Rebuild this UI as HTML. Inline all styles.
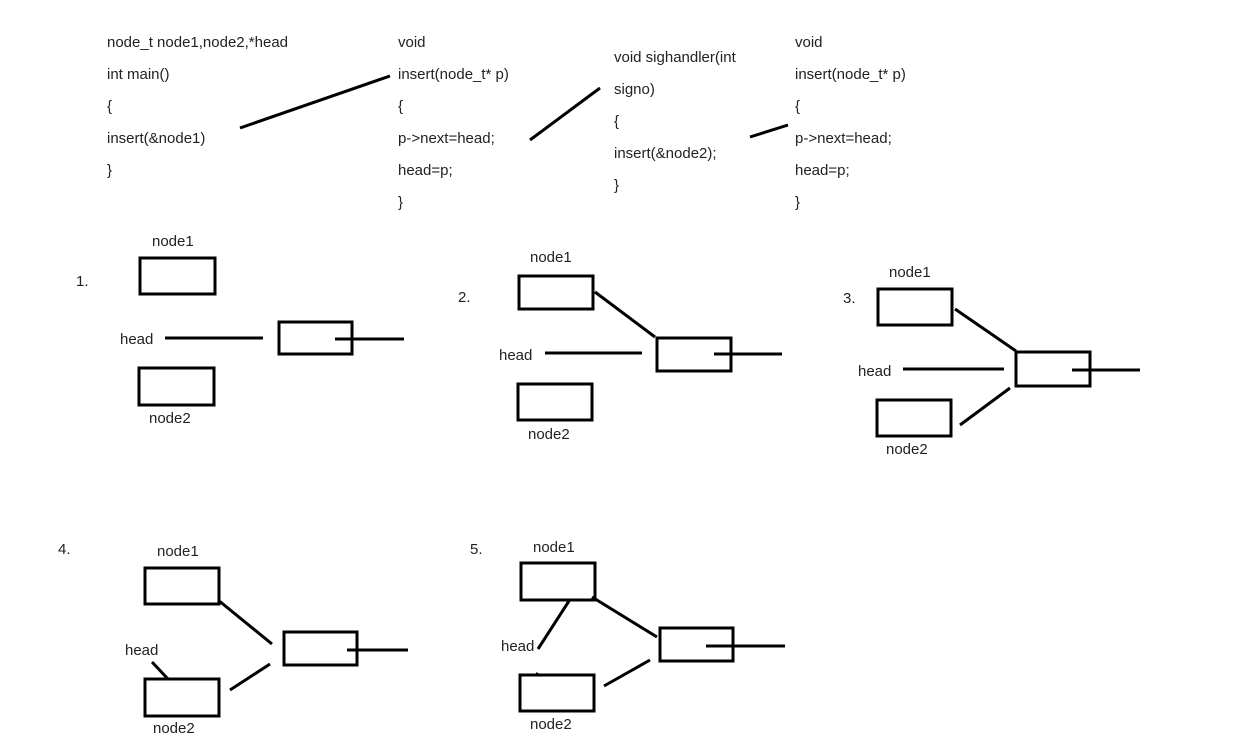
<!DOCTYPE html>
<html><head><meta charset="utf-8"><style>
html,body{margin:0;padding:0;background:#fff;}
svg{display:block;}
text{font-family:"Liberation Sans","DejaVu Sans",sans-serif;font-size:15px;fill:#222;}
</style></head><body>
<svg width="1243" height="745" viewBox="0 0 1243 745" xmlns="http://www.w3.org/2000/svg">
<g>
<text x="107" y="47">node_t node1,node2,*head</text>
<text x="107" y="79">int main()</text>
<text x="107" y="111">{</text>
<text x="107" y="143">insert(&amp;node1)</text>
<text x="107" y="175">}</text>

<text x="398" y="47">void</text>
<text x="398" y="79">insert(node_t* p)</text>
<text x="398" y="111">{</text>
<text x="398" y="143">p-&gt;next=head;</text>
<text x="398" y="175">head=p;</text>
<text x="398" y="207">}</text>

<text x="614" y="62">void sighandler(int</text>
<text x="614" y="94">signo)</text>
<text x="614" y="126">{</text>
<text x="614" y="158">insert(&amp;node2);</text>
<text x="614" y="190">}</text>

<text x="795" y="47">void</text>
<text x="795" y="79">insert(node_t* p)</text>
<text x="795" y="111">{</text>
<text x="795" y="143">p-&gt;next=head;</text>
<text x="795" y="175">head=p;</text>
<text x="795" y="207">}</text>
</g>
<g stroke="#000" stroke-width="3" fill="none">
<line x1="240" y1="128" x2="390" y2="76"/>
<line x1="530" y1="140" x2="600" y2="88"/>
<line x1="750" y1="137" x2="788" y2="125"/>

<!-- 1 -->
<rect x="140" y="258" width="75" height="36"/>
<line x1="165" y1="338" x2="263" y2="338"/>
<rect x="279" y="322" width="73" height="32"/>
<line x1="335" y1="339" x2="404" y2="339"/>
<rect x="139" y="368" width="75" height="37"/>

<!-- 2 -->
<rect x="519" y="276" width="74" height="33"/>
<line x1="595" y1="292" x2="655" y2="337"/>
<line x1="545" y1="353" x2="642" y2="353"/>
<rect x="657" y="338" width="74" height="33"/>
<line x1="714" y1="354" x2="782" y2="354"/>
<rect x="518" y="384" width="74" height="36"/>

<!-- 3 -->
<rect x="878" y="289" width="74" height="36"/>
<line x1="955" y1="309" x2="1016" y2="351"/>
<line x1="903" y1="369" x2="1004" y2="369"/>
<rect x="1016" y="352" width="74" height="34"/>
<line x1="1072" y1="370" x2="1140" y2="370"/>
<rect x="877" y="400" width="74" height="36"/>
<line x1="960" y1="425" x2="1010" y2="388"/>

<!-- 4 -->
<rect x="145" y="568" width="74" height="36"/>
<line x1="218" y1="600" x2="272" y2="644"/>
<line x1="152" y1="662" x2="168" y2="679"/>
<rect x="284" y="632" width="73" height="33"/>
<line x1="347" y1="650" x2="408" y2="650"/>
<rect x="145" y="679" width="74" height="37"/>
<line x1="230" y1="690" x2="270" y2="664"/>

<!-- 5 -->
<rect x="521" y="563" width="74" height="37"/>
<line x1="592" y1="597" x2="657" y2="637"/>
<line x1="569" y1="601" x2="538" y2="649"/>
<rect x="660" y="628" width="73" height="33"/>
<line x1="706" y1="646" x2="785" y2="646"/>
<rect x="520" y="675" width="74" height="36"/>
<line x1="604" y1="686" x2="650" y2="660"/>
<line x1="536" y1="673" x2="541" y2="676" stroke-width="2"/>
</g>
<g>
<text x="76" y="286">1.</text>
<text x="152" y="246">node1</text>
<text x="120" y="344">head</text>
<text x="149" y="423">node2</text>

<text x="458" y="302">2.</text>
<text x="530" y="262">node1</text>
<text x="499" y="360">head</text>
<text x="528" y="439">node2</text>

<text x="843" y="303">3.</text>
<text x="889" y="277">node1</text>
<text x="858" y="376">head</text>
<text x="886" y="454">node2</text>

<text x="58" y="554">4.</text>
<text x="157" y="556">node1</text>
<text x="125" y="655">head</text>
<text x="153" y="733">node2</text>

<text x="470" y="554">5.</text>
<text x="533" y="552">node1</text>
<text x="501" y="651">head</text>
<text x="530" y="729">node2</text>
</g>
</svg>
</body></html>
